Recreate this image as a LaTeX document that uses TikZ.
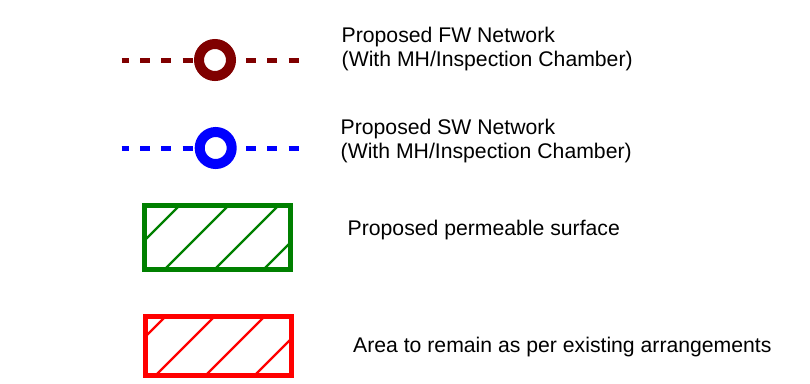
\documentclass[tikz,border=0pt]{standalone}
\usepackage{fontspec}
\setmainfont{Liberation Sans}
\definecolor{fwred}{RGB}{128,0,0}
\definecolor{swblue}{RGB}{0,0,255}
\definecolor{pgreen}{RGB}{0,128,0}
\definecolor{ared}{RGB}{255,0,0}
\begin{document}
\begin{tikzpicture}[x=1pt, y=-1pt,
        ring node/.style={circle, draw=#1, fill=white, line width=10pt, minimum size=32pt, inner sep=0pt},
        pipe/.style={line width=5pt, dash pattern=on 10pt off 11.2pt, dash phase=2.7pt},
        box/.style={line width=5pt},
        hatch/.style={line width=2.2pt}]
        \tikzstyle{every node}=[font=\fontsize{21.2}{24}\selectfont, inner sep=0pt]
        \useasboundingbox (0,0) rectangle (810,383);

          % sewer networks
          \draw[pipe, fwred] (121.7,60) -- (300,60);
          \node[ring node=fwred] (fw) at (215,60) {};
          \draw[pipe, swblue] (121.7,148) -- (300,148);
          \node[ring node=swblue] (sw) at (215.7,148) {};

          % hatched surfaces
          \begin{scope}
            \clip (144.2,205.8) rectangle (290.8,269.2);
            \foreach \c in {385,434,484,533}
              \draw[hatch, pgreen] ({\c-200},200) -- ({\c-280},280);
          \end{scope}
          \draw[box, pgreen] (144.2,205.8) rectangle (290.8,269.2);
          \begin{scope}
            \clip (145.8,316.5) rectangle (291.5,375.8);
            \foreach \c in {482,531,581,630}
              \draw[hatch, ared] ({\c-310},310) -- ({\c-380},380);
          \end{scope}
          \draw[box, ared] (145.8,316.5) rectangle (291.5,375.8);

          % labels (base = last line)
          \node[anchor=base west, align=left] (fwtext) at (341.5,66.7) {Proposed FW Network\\(With MH/Inspection Chamber)};
          \node[anchor=base west, align=left] (swtext) at (340.5,158.3) {Proposed SW Network\\(With MH/Inspection Chamber)};
          \node[anchor=base west] (pstext) at (347.5,235) {Proposed permeable surface};
          \node[anchor=base west] (artext) at (353,352) {Area to remain as per existing arrangements};
              
\end{tikzpicture}
\end{document}
